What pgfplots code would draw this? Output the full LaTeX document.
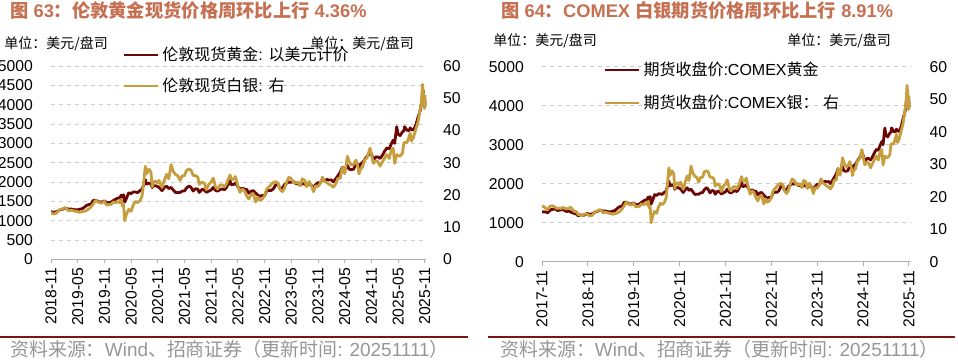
\documentclass[border=0pt]{standalone}
\usepackage{pgfplots}
\pgfplotsset{compat=1.18}
\usepackage{pgfplotstable}
\usepackage{fontspec}
\setmainfont{Liberation Sans}
\newfontfamily\cjk{Noto Sans CJK SC}
\definecolor{goldc}{RGB}{108,6,6}
\definecolor{silverc}{RGB}{198,158,62}
\definecolor{titlec}{RGB}{198,112,82}
\definecolor{srcc}{RGB}{150,150,150}
\definecolor{rulec}{RGB}{125,20,20}
\definecolor{gridc}{RGB}{205,205,205}
\definecolor{axc}{RGB}{175,175,175}

\pgfplotstableread{
x g s
2017.833 1275 17.05
2017.871 1280 17.0
2017.917 1275 16.4
2017.955 1255 16.0
2018.000 1305 17.0
2018.038 1340 17.2
2018.083 1345 17.1
2018.121 1355 16.7
2018.167 1315 16.4
2018.205 1320 16.5
2018.250 1330 16.4
2018.288 1345 16.7
2018.333 1305 16.4
2018.371 1290 16.3
2018.417 1295 16.4
2018.455 1280 16.8
2018.500 1250 16.0
2018.538 1240 15.5
2018.583 1220 15.4
2018.621 1175 14.5
2018.667 1200 14.4
2018.705 1195 14.2
2018.750 1190 14.6
2018.788 1225 14.7
2018.833 1235 14.5
2018.871 1215 14.1
2018.917 1225 14.2
2018.955 1240 14.7
2019.000 1282 15.5
2019.038 1290 15.6
2019.083 1320 16.0
2019.121 1320 15.8
2019.167 1295 15.0
2019.205 1302 15.3
2019.250 1292 15.1
2019.288 1278 14.9
2019.333 1282 14.8
2019.371 1296 14.6
2019.417 1310 14.8
2019.455 1345 14.9
2019.500 1395 15.2
2019.538 1415 15.6
2019.583 1430 16.3
2019.621 1520 17.1
2019.667 1530 18.3
2019.705 1505 17.9
2019.750 1480 17.5
2019.788 1485 17.5
2019.833 1510 18.0
2019.871 1470 16.9
2019.917 1462 17.0
2019.955 1477 17.0
2020.000 1520 17.8
2020.038 1550 17.6
2020.083 1585 17.9
2020.121 1585 17.6
2020.148 1660 18.6
2020.167 1610 16.6
2020.192 1670 17.0
2020.213 1480 12.0
2020.250 1590 14.2
2020.288 1720 15.5
2020.333 1700 14.9
2020.371 1740 16.8
2020.417 1740 18.0
2020.455 1725 17.6
2020.500 1780 18.2
2020.538 1810 19.6
2020.571 1940 24.3
2020.600 2060 28.9
2020.621 1945 26.5
2020.667 1970 28.0
2020.705 1955 27.0
2020.729 1855 22.5
2020.750 1900 23.7
2020.788 1905 24.3
2020.833 1880 23.7
2020.855 1865 24.5
2020.912 1775 22.3
2020.955 1855 24.5
2020.997 1895 26.4
2021.038 1830 25.0
2021.083 1860 29.4
2021.121 1795 27.3
2021.167 1725 26.3
2021.205 1730 26.0
2021.250 1730 24.5
2021.288 1765 25.9
2021.333 1770 26.0
2021.371 1845 27.6
2021.417 1900 28.0
2021.455 1860 27.7
2021.496 1765 26.0
2021.538 1825 26.0
2021.583 1815 25.5
2021.608 1730 23.3
2021.667 1815 24.0
2021.705 1790 23.5
2021.743 1735 21.6
2021.788 1765 23.3
2021.833 1795 24.0
2021.871 1860 25.2
2021.917 1780 22.4
2021.955 1765 21.8
2022.000 1805 23.1
2022.038 1820 23.1
2022.083 1800 22.5
2022.121 1860 23.5
2022.186 2040 26.2
2022.205 1930 25.0
2022.250 1935 24.8
2022.288 1975 25.7
2022.333 1880 22.7
2022.371 1810 20.8
2022.417 1845 21.8
2022.455 1815 21.3
2022.500 1805 19.6
2022.538 1710 18.7
2022.583 1765 20.2
2022.621 1775 20.4
2022.667 1710 17.8
2022.705 1665 19.3
2022.740 1630 18.3
2022.788 1650 18.7
2022.833 1640 19.7
2022.871 1775 21.8
2022.917 1780 22.5
2022.955 1780 23.2
2023.000 1825 23.9
2023.038 1920 24.1
2023.083 1950 23.7
2023.121 1835 21.7
2023.167 1835 21.0
2023.205 1930 22.0
2023.250 1970 24.1
2023.288 2000 25.5
2023.333 1990 25.0
2023.371 2015 24.0
2023.417 1960 23.7
2023.455 1955 24.0
2023.500 1920 22.8
2023.538 1955 25.0
2023.583 1955 24.6
2023.621 1905 22.5
2023.667 1940 24.2
2023.705 1920 23.0
2023.750 1855 21.0
2023.788 1930 22.8
2023.833 1985 22.6
2023.871 1965 23.4
2023.917 2075 25.5
2023.955 2030 24.2
2024.000 2065 23.8
2024.038 2050 23.3
2024.083 2055 23.0
2024.121 2005 22.4
2024.167 2085 23.4
2024.205 2160 25.1
2024.250 2255 25.2
2024.288 2385 28.6
2024.333 2300 26.6
2024.385 2430 32.0
2024.417 2330 30.4
2024.455 2320 29.3
2024.500 2330 29.5
2024.544 2470 30.8
2024.583 2440 28.5
2024.600 2380 26.5
2024.621 2460 27.8
2024.667 2500 28.6
2024.705 2580 30.8
2024.750 2660 31.5
2024.808 2740 34.5
2024.833 2740 32.6
2024.869 2560 29.8
2024.917 2650 30.6
2024.955 2645 30.3
2024.997 2610 28.9
2025.038 2690 30.2
2025.083 2800 31.5
2025.121 2880 32.5
2025.167 2860 31.3
2025.205 2985 33.9
2025.240 3080 34.5
2025.269 3000 29.8
2025.307 3430 32.5
2025.333 3240 32.2
2025.371 3200 32.0
2025.417 3300 33.0
2025.439 3320 36.0
2025.455 3430 36.3
2025.500 3340 36.2
2025.538 3330 38.0
2025.560 3400 39.2
2025.583 3360 36.7
2025.621 3340 37.8
2025.667 3480 40.5
2025.705 3670 42.5
2025.750 3860 47.0
2025.769 4040 48.5
2025.791 4300 54.3
2025.802 4370 52.5
2025.824 3950 46.8
2025.843 3980 48.0
2025.862 4130 51.0
}\datatable

\pgfplotsset{
  common/.style={
    scale only axis, clip=true,
    tick align=outside, major tick length=3pt,
    /pgf/number format/1000 sep={},
    /pgf/number format/assume math mode=true,
    ticklabel style={font=\fontsize{11.8}{13}\selectfont},
    legend image code/.code={\draw[##1] (0pt,0pt) -- (26pt,0pt);},
    legend style={draw=none, fill=none, inner sep=0pt, anchor=west,
      font=\fontsize{12}{14}\selectfont, nodes={inner sep=2pt}},
  },
  leftax/.style={common,
    axis x line*=bottom, axis y line*=left,
    y axis line style={draw=none}, ytick style={draw=none},
    x axis line style={draw=axc, line width=0.7pt},
    xtick style={draw=axc, line width=0.7pt},
    xticklabel style={rotate=90, anchor=east},
    ymin=0, ymax=5000,
    ymajorgrids, grid style={dashed, gridc, line width=0.7pt},
    yticklabel style={xshift=-7pt},
  },
  rightax/.style={common,
    axis x line=none, axis y line*=right,
    y axis line style={draw=none}, ytick style={draw=none},
    ymin=0, ymax=60, ytick={0,10,...,60},
  },
  goldline/.style={goldc, line width=2.1pt, line join=round},
  silverline/.style={silverc, line width=2.1pt, line join=round},
}

\begin{document}
\begin{tikzpicture}
\path[use as bounding box] (0,0) rectangle (718.5pt,-270pt);

% ---------- left panel ----------
\node[anchor=west, text=titlec, font=\bfseries\fontsize{13.7}{16}\selectfont, inner sep=0pt] at (7.5pt,-8pt)
  {{\cjk 图} 63{\cjk ：伦敦黄金现货价格周环比上行} 4.36\%};
\node[anchor=west, inner sep=0pt, font=\cjk\fontsize{10.5}{12}\selectfont] at (3pt,-33pt) {单位：美元/盘司};
\node[anchor=west, inner sep=0pt, font=\cjk\fontsize{10.5}{12}\selectfont] at (232.5pt,-33pt) {单位：美元/盘司};

\begin{axis}[leftax,
  at={(38.25pt,-194.5pt)}, anchor=south west,
  width=281.5pt, height=145pt,
  xmin=2018.833, xmax=2025.862,
  ytick={0,500,...,5000},
  xtick={2018.833,2019.333,2019.833,2020.333,2020.833,2021.333,2021.833,2022.333,2022.833,2023.333,2023.833,2024.333,2024.833,2025.333,2025.833},
  xticklabels={2018-11,2019-05,2019-11,2020-05,2020-11,2021-05,2021-11,2022-05,2022-11,2023-05,2023-11,2024-05,2024-11,2025-05,2025-11},
  legend style={at={(0.189,1.057)}},
]
\addplot[goldline] table[x=x, y=g] {\datatable};
\addlegendentry{{\cjk 伦敦现货黄金}: {\cjk 以美元计价}}
\end{axis}
\begin{axis}[rightax,
  at={(38.25pt,-194.5pt)}, anchor=south west,
  width=281.5pt, height=145pt,
  xmin=2018.833, xmax=2025.862,
  yticklabel style={xshift=6pt},
  legend style={at={(0.189,0.897)}},
]
\addplot[silverline] table[x=x, y=s] {\datatable};
\addlegendentry{{\cjk 伦敦现货白银}: {\cjk 右}}
\end{axis}

\draw[rulec, line width=0.8pt] (0pt,-252.75pt) -- (351pt,-252.75pt);
\node[anchor=west, inner sep=0pt, text=srcc, font=\fontsize{14.2}{16}\selectfont] at (7.5pt,-261.75pt)
  {{\cjk 资料来源：}Wind{\cjk 、招商证券（更新时间}: 20251111{\cjk ）}};

% ---------- right panel ----------
\node[anchor=west, text=titlec, font=\bfseries\fontsize{13.7}{16}\selectfont, inner sep=0pt] at (375.75pt,-8pt)
  {{\cjk 图} 64{\cjk ：}COMEX {\cjk 白银期货价格周环比上行} 8.91\%};
\node[anchor=west, inner sep=0pt, font=\cjk\fontsize{10.5}{12}\selectfont] at (369.75pt,-30.75pt) {单位：美元/盘司};
\node[anchor=west, inner sep=0pt, font=\cjk\fontsize{10.5}{12}\selectfont] at (590.25pt,-30.75pt) {单位：美元/盘司};

\begin{axis}[leftax,
  at={(406.5pt,-196.3pt)}, anchor=south west,
  width=276.2pt, height=146.25pt,
  xmin=2017.833, xmax=2025.862,
  ytick={0,1000,...,5000},
  xtick={2017.833,2018.833,2019.833,2020.833,2021.833,2022.833,2023.833,2024.833,2025.833},
  xticklabels={2017-11,2018-11,2019-11,2020-11,2021-11,2022-11,2023-11,2024-11,2025-11},
  legend style={at={(0.166,0.983)}},
]
\addplot[goldline] table[x=x, y=g] {\datatable};
\addlegendentry{{\cjk 期货收盘价}:COMEX{\cjk 黄金}}
\end{axis}
\begin{axis}[rightax,
  at={(406.5pt,-196.3pt)}, anchor=south west,
  width=276.2pt, height=146.25pt,
  xmin=2017.833, xmax=2025.862,
  yticklabel style={xshift=8pt},
  legend style={at={(0.166,0.814)}},
]
\addplot[silverline] table[x=x, y=s] {\datatable};
\addlegendentry{{\cjk 期货收盘价}:COMEX{\cjk 银：}\ {\cjk 右}}
\end{axis}

\draw[rulec, line width=0.8pt] (366pt,-252.75pt) -- (716.25pt,-252.75pt);
\node[anchor=west, inner sep=0pt, text=srcc, font=\fontsize{14.2}{16}\selectfont] at (375pt,-261.75pt)
  {{\cjk 资料来源：}Wind{\cjk 、招商证券（更新时间}: 20251111{\cjk ）}};
\end{tikzpicture}
\end{document}
